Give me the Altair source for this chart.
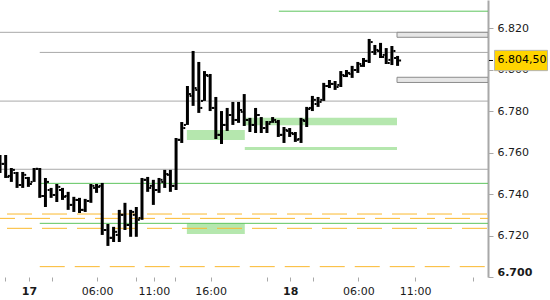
import altair as alt
import pandas as pd

# ---- OHLC (30-minute bars) ----
opens = [6.7575, 6.7546, 6.7488, 6.7502, 6.7444, 6.7478, 6.7459, 6.7522, 6.7391, 6.7420,
         6.7396, 6.7420, 6.7391, 6.7348, 6.7372, 6.7324, 6.7367, 6.7430, 6.7440, 6.7227,
         6.7189, 6.7203, 6.7300, 6.7251, 6.7300, 6.7285, 6.7469, 6.7440, 6.7420, 6.7459,
         6.7493, 6.7440, 6.7662, 6.7734, 6.7874, 6.7903, 6.7850, 6.7970, 6.7816, 6.7686,
         6.7734, 6.7782, 6.7758, 6.7797, 6.7758, 6.7734, 6.7782, 6.7719, 6.7748, 6.7748,
         6.7686, 6.7705, 6.7690, 6.7666, 6.7753, 6.7816, 6.7835, 6.7855, 6.7922, 6.7932,
         6.7927, 6.7970, 6.7980, 6.7999, 6.8019, 6.8043, 6.8086, 6.8091, 6.8072, 6.8048,
         6.8057]
highs = [6.7589, 6.7589, 6.7526, 6.7507, 6.7507, 6.7483, 6.7526, 6.7526, 6.7478, 6.7430,
         6.7449, 6.7430, 6.7411, 6.7387, 6.7382, 6.7377, 6.7449, 6.7449, 6.7454, 6.7256,
         6.7242, 6.7324, 6.7358, 6.7324, 6.7338, 6.7478, 6.7483, 6.7469, 6.7478, 6.7517,
         6.7517, 6.7671, 6.7748, 6.7922, 6.8091, 6.8038, 6.7994, 6.7980, 6.7869, 6.7801,
         6.7816, 6.7845, 6.7845, 6.7883, 6.7768, 6.7816, 6.7772, 6.7753, 6.7772, 6.7758,
         6.7724, 6.7719, 6.7700, 6.7768, 6.7821, 6.7874, 6.7869, 6.7937, 6.7951, 6.7946,
         6.7994, 6.7999, 6.8019, 6.8038, 6.8057, 6.8149, 6.8120, 6.8130, 6.8105, 6.8115,
         6.8067]
lows = [6.7502, 6.7478, 6.7459, 6.7430, 6.7430, 6.7435, 6.7459, 6.7382, 6.7338, 6.7382,
        6.7362, 6.7372, 6.7324, 6.7314, 6.7309, 6.7314, 6.7358, 6.7406, 6.7203, 6.7150,
        6.7169, 6.7169, 6.7227, 6.7194, 6.7194, 6.7276, 6.7411, 6.7348, 6.7406, 6.7430,
        6.7411, 6.7420, 6.7647, 6.7734, 6.7826, 6.7792, 6.7850, 6.7801, 6.7666, 6.7642,
        6.7705, 6.7734, 6.7744, 6.7729, 6.7700, 6.7695, 6.7695, 6.7695, 6.7744, 6.7676,
        6.7647, 6.7676, 6.7652, 6.7647, 6.7724, 6.7801, 6.7821, 6.7850, 6.7912, 6.7903,
        6.7917, 6.7965, 6.7961, 6.7985, 6.8014, 6.8033, 6.8072, 6.8057, 6.8028, 6.8023,
        6.8019]
closes = [6.7546, 6.7483, 6.7517, 6.7444, 6.7493, 6.7449, 6.7522, 6.7391, 6.7459, 6.7396,
          6.7435, 6.7387, 6.7348, 6.7372, 6.7324, 6.7367, 6.7440, 6.7435, 6.7227, 6.7189,
          6.7218, 6.7300, 6.7251, 6.7314, 6.7276, 6.7469, 6.7430, 6.7420, 6.7469, 6.7497,
          6.7440, 6.7662, 6.7719, 6.7883, 6.7912, 6.7816, 6.7975, 6.7816, 6.7686, 6.7734,
          6.7782, 6.7758, 6.7806, 6.7758, 6.7734, 6.7782, 6.7719, 6.7739, 6.7758, 6.7686,
          6.7710, 6.7695, 6.7662, 6.7758, 6.7811, 6.7855, 6.7845, 6.7922, 6.7932, 6.7917,
          6.7975, 6.7985, 6.7999, 6.8028, 6.8043, 6.8134, 6.8096, 6.8062, 6.8033, 6.8091,
          6.8045]

last_price = [6.8045]
last_label = ["6.804,50"]

# ---- x axis ticks (bar-index positions) and labels ----
tick_pos = [0.9, 5.1, 9.1, 17.1, 23.9, 27.1, 30.8, 37.1, 47.0, 51.1, 55.1, 63.1, 73.1, 83.3]
tick_lab = ["", "17", "", "06:00", "", "11:00", "", "16:00", "", "18", "", "06:00", "11:00", ""]
day_labels = ["17", "18"]

y_ticks = [6.70, 6.72, 6.74, 6.76, 6.78, 6.80, 6.82]

# ---- horizontal levels ----
gray_levels = [6.8181, 6.8084, 6.7849, 6.7520]
gray_start = [0.0, 7.0, 0.0, 0.0]
green_levels = [6.8283, 6.7452, 6.7259]
green_start = [49.1, 7.0, 7.0]
orange_a = [6.7304, 6.7235]   # dash phase A, from left edge
orange_b = [6.7283]           # dash phase B, from left edge
orange_c = [6.7050]           # starts later
orange_c_start = [7.0]

zone_x = [32.9, 43.1, 43.1, 32.9]
zone_x2 = [43.1, 69.9, 69.9, 43.1]
zone_top = [6.7709, 6.7769, 6.7627, 6.7259]
zone_bot = [6.7661, 6.7733, 6.7613, 6.7207]

box_x = [69.9, 69.9]
box_top = [6.8181, 6.7964]
box_bot = [6.8157, 6.7939]

X_MAX = 85.92
Y_MIN, Y_MAX = 6.700, 6.8337

FONT = "DejaVu Sans"
AX = "#a8a8a8"

xs = alt.Scale(domain=[0, X_MAX], nice=False, zero=False)
ys = alt.Scale(domain=[Y_MIN, Y_MAX], nice=False, zero=False)

label_expr = "".join(f"datum.value == {p} ? '{l}' : " for p, l in zip(tick_pos, tick_lab)) + "''"
bold_test = " || ".join(f"datum.value == {p}" for p, l in zip(tick_pos, tick_lab) if l in day_labels)

x_axis = alt.Axis(values=tick_pos, labelExpr=label_expr, title=None, grid=False, domain=False,
                  tickColor=AX, tickSize=4, labelPadding=4, labelFont=FONT, labelFontSize=11,
                  labelColor="#1a1a1a", labelFlush=False, labelOverlap=False,
                  labelFontWeight={"condition": {"test": bold_test, "value": "bold"}, "value": "normal"})
y_axis = alt.Axis(orient="right", values=y_ticks, format=".3f", title=None, grid=False,
                  domainColor=AX, domainWidth=2, tickColor=AX, tickSize=5, labelPadding=4,
                  labelFont=FONT, labelFontSize=11, labelColor="#1a1a1a", labelFlush=True,
                  labelOverlap=False,
                  labelFontWeight={"condition": {"test": "datum.value < 6.7005", "value": "bold"}, "value": "normal"})


def X(f):
    return alt.X(f, type="quantitative", scale=xs, axis=x_axis)


def Y(f):
    return alt.Y(f, type="quantitative", scale=ys, axis=y_axis)


bars = pd.DataFrame({"i": list(range(len(highs))), "open": opens, "high": highs,
                     "low": lows, "close": closes})

gray_df = pd.DataFrame({"y": gray_levels, "x0": gray_start, "x1": [X_MAX] * len(gray_levels)})
green_df = pd.DataFrame({"y": green_levels, "x0": green_start, "x1": [X_MAX] * len(green_levels)})
oa_df = pd.DataFrame({"y": orange_a, "x0": [0.0] * len(orange_a), "x1": [X_MAX] * len(orange_a)})
ob_df = pd.DataFrame({"y": orange_b, "x0": [0.0] * len(orange_b), "x1": [X_MAX] * len(orange_b)})
oc_df = pd.DataFrame({"y": orange_c, "x0": orange_c_start, "x1": [X_MAX] * len(orange_c)})
zone_df = pd.DataFrame({"x0": zone_x, "x1": zone_x2, "t": zone_top, "b": zone_bot})
box_df = pd.DataFrame({"x0": box_x, "x1": [X_MAX] * len(box_x), "t": box_top, "b": box_bot})
tag_df = pd.DataFrame({"p": last_price, "label": last_label})

zones = alt.Chart(zone_df).mark_rect(color="#b5e7ae", clip=True).encode(
    x=X("x0"), x2="x1", y=Y("t"), y2="b")

gray = alt.Chart(gray_df).mark_rule(color="#a9a9a9", strokeWidth=1, clip=True).encode(
    x=X("x0"), x2="x1", y=Y("y"))
green = alt.Chart(green_df).mark_rule(color="#5ec45e", strokeWidth=1, clip=True).encode(
    x=X("x0"), x2="x1", y=Y("y"))
orange1 = alt.Chart(oa_df).mark_rule(color="#fbb92e", strokeWidth=1, strokeDash=[25, 10],
                                     strokeDashOffset=28, clip=True).encode(
    x=X("x0"), x2="x1", y=Y("y"))
orange2 = alt.Chart(ob_df).mark_rule(color="#fbb92e", strokeWidth=1, strokeDash=[25, 10],
                                     strokeDashOffset=10, clip=True).encode(
    x=X("x0"), x2="x1", y=Y("y"))
orange3 = alt.Chart(oc_df).mark_rule(color="#fbb92e", strokeWidth=1, strokeDash=[25, 10],
                                     strokeDashOffset=0, clip=True).encode(
    x=X("x0"), x2="x1", y=Y("y"))

boxes = alt.Chart(box_df).mark_rect(fill="#e6e6e6", stroke="#8c8c8c", strokeWidth=1, clip=True).encode(
    x=X("x0"), x2="x1", y=Y("t"), y2="b")

hl = alt.Chart(bars).mark_rule(color="black", strokeWidth=3, clip=True).encode(
    x=X("i"), y=Y("low"), y2="high")
op = alt.Chart(bars).mark_rule(color="black", strokeWidth=2, xOffset=-3.5, x2Offset=-1.5, clip=True).encode(
    x=X("i"), x2="i", y=Y("open"))
cl = alt.Chart(bars).mark_rule(color="black", strokeWidth=2, xOffset=1.5, x2Offset=3.5, clip=True).encode(
    x=X("i"), x2="i", y=Y("close"))

tag_base = alt.Chart(tag_df).transform_calculate(hi="datum.p + 0.0049", lo="datum.p - 0.0049")
tag_box = tag_base.mark_rect(fill="#ffd400", stroke="#b4b4b4", strokeWidth=1, clip=False).encode(
    x=alt.value(494.5), x2=alt.value(547.5), y=Y("hi"), y2="lo")
tag_tick = tag_base.mark_rule(color="black", strokeWidth=1, clip=False).encode(
    x=alt.value(489), x2=alt.value(493), y=Y("p"))
tag_text = tag_base.mark_text(align="left", baseline="middle", font=FONT, fontSize=11,
                              color="black", clip=False).encode(
    x=alt.value(497.5), y=Y("p"), text="label:N")

chart = alt.layer(
    zones, gray, green, orange1, orange2, orange3, boxes, hl, op, cl, tag_tick, tag_box, tag_text
).properties(
    width=488, height=277,
    padding={"left": 0, "top": 0, "right": 62, "bottom": 23},
    autosize=alt.AutoSizeParams(type="none"),
    background="white",
).configure_view(stroke=None)

chart.save("out.html", embed_options={"renderer": "svg", "actions": False})
